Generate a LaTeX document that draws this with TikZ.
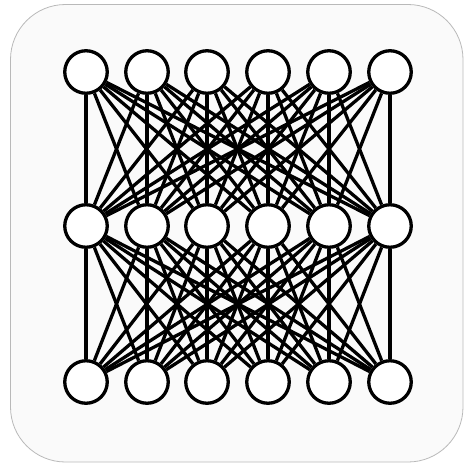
\documentclass[tikz,border=0pt]{standalone}
\tikzset{unit/.style={circle, draw, fill=white, line width=3.3pt, inner sep=0pt, minimum size=42.5pt}}
\begin{document}
\begin{tikzpicture}[x=1pt,y=-1pt]
			\useasboundingbox (0,0) rectangle (465,463);
			\draw[gray!55, fill=black!2, line width=0.8pt, rounded corners=55pt] (10.5,4.5) rectangle (463,462);
			\node[unit] (t1) at (86,72) {};
			\node[unit] (t2) at (147,72) {};
			\node[unit] (t3) at (207,72) {};
			\node[unit] (t4) at (268,72) {};
			\node[unit] (t5) at (329,72) {};
			\node[unit] (t6) at (390,72) {};
			\node[unit] (h1) at (86,226) {};
			\node[unit] (h2) at (147,226) {};
			\node[unit] (h3) at (207,226) {};
			\node[unit] (h4) at (268,226) {};
			\node[unit] (h5) at (329,226) {};
			\node[unit] (h6) at (390,226) {};
			\node[unit] (b1) at (86,382) {};
			\node[unit] (b2) at (147,382) {};
			\node[unit] (b3) at (207,382) {};
			\node[unit] (b4) at (268,382) {};
			\node[unit] (b5) at (329,382) {};
			\node[unit] (b6) at (390,382) {};
			\foreach \i in {1,...,6}
				\foreach \j in {1,...,6} {
					\draw[line width=3.3pt] (t\i) -- (h\j);
					\draw[line width=3.3pt] (h\i) -- (b\j);
				}
		\end{tikzpicture}
\end{document}
